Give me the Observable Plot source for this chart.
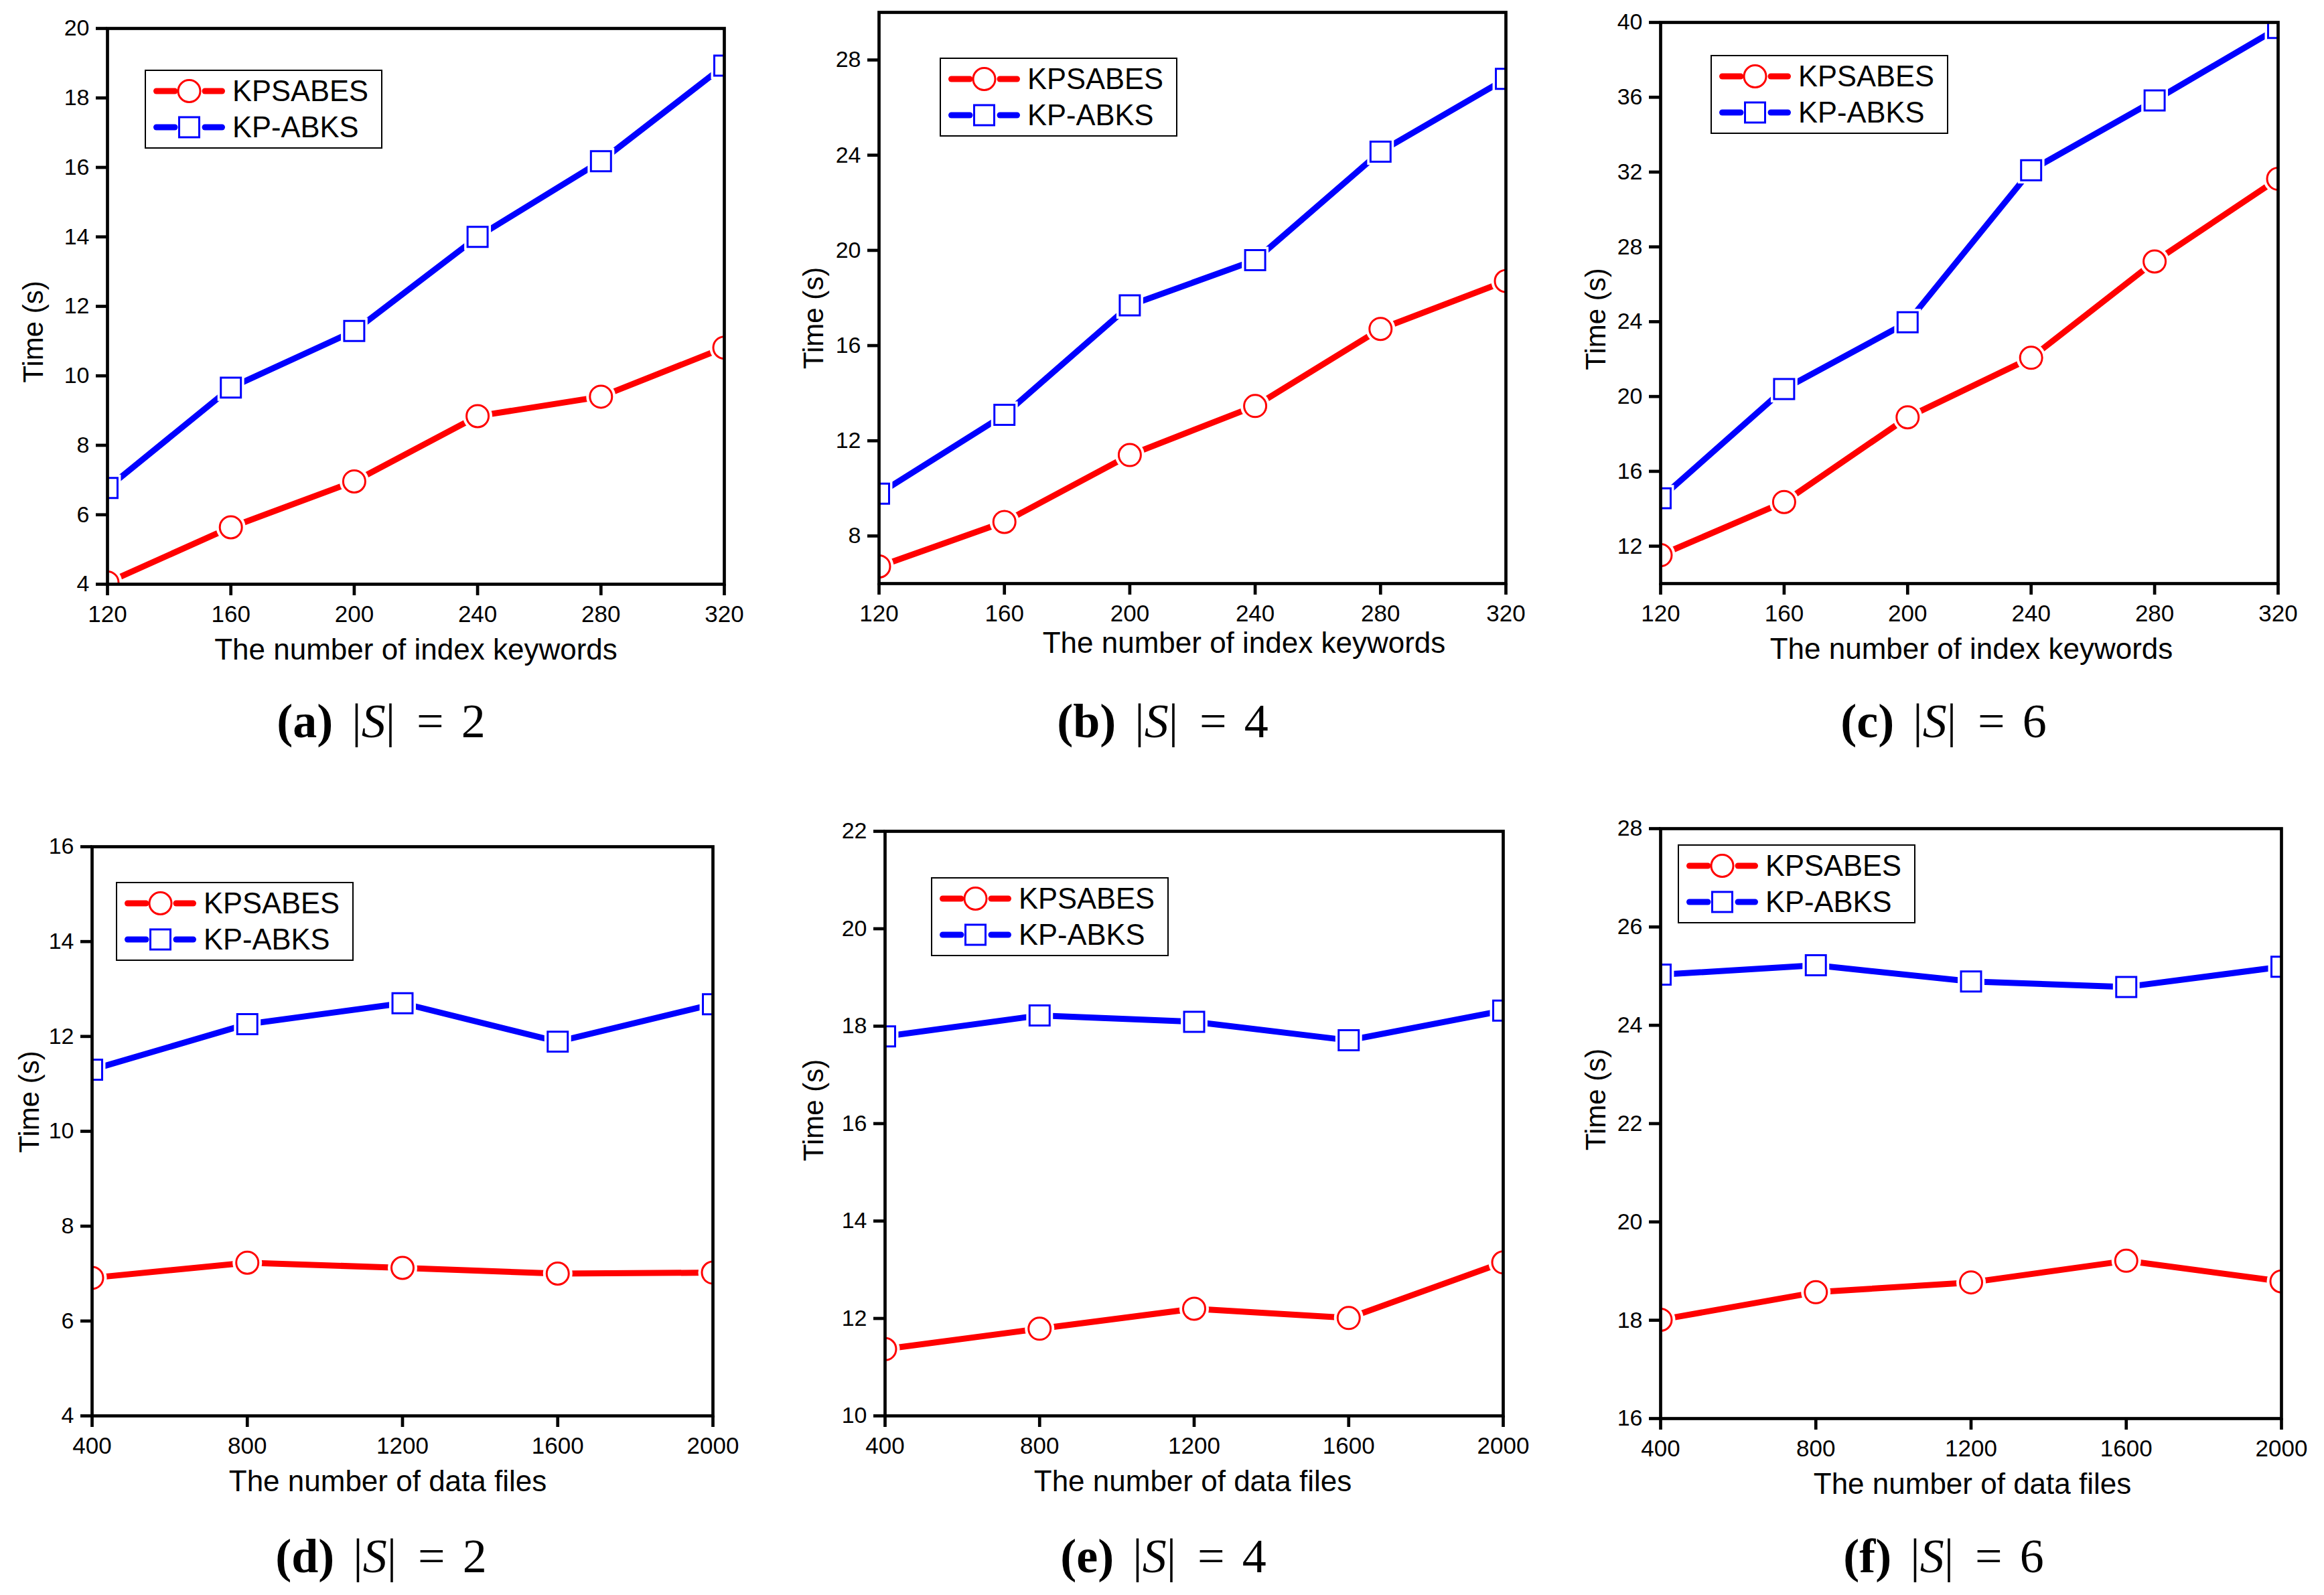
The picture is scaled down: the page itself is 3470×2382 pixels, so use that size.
<!DOCTYPE html>
<html><head><meta charset="utf-8">
<script src="https://cdn.jsdelivr.net/npm/d3@7"></script>
<script src="https://cdn.jsdelivr.net/npm/@observablehq/plot@0.6"></script>
<style>
html,body{margin:0;padding:0;background:#fff;}
body{width:3470px;height:2382px;position:relative;overflow:hidden;font-family:"Liberation Sans",Arial,sans-serif;}
.panel{position:absolute;}
.legend{position:absolute;border:2px solid #000;background:#fff;box-sizing:border-box;padding:3px 19px 3px 11px;}
.legend .row{display:flex;align-items:center;height:54px;font-size:43.5px;white-space:nowrap;}
.legend svg{flex:none;margin-right:11px;}
.caption{position:absolute;font-family:"Liberation Serif","Times New Roman",serif;font-size:72px;transform:translate(-50%,-50%);white-space:nowrap;color:#000;line-height:1;}
.caption .m{font-style:italic;}
</style></head><body>
<script>
// ---- data ----
const keywords = [120, 160, 200, 240, 280, 320];
const files = [400, 800, 1200, 1600, 2000];
const seriesNames = ["KPSABES", "KP-ABKS"];

const aKPSABES = [4.05, 5.64, 6.96, 8.84, 9.40, 10.81];
const aKPABKS  = [6.77, 9.66, 11.29, 14.0, 16.18, 18.93];
const bKPSABES = [6.72, 8.59, 11.40, 13.46, 16.70, 18.71];
const bKPABKS  = [9.78, 13.09, 17.69, 19.59, 24.15, 27.21];
const cKPSABES = [11.52, 14.36, 18.89, 22.07, 27.22, 31.64];
const cKPABKS  = [14.56, 20.40, 23.97, 32.10, 35.83, 39.70];
const dKPSABES = [6.91, 7.23, 7.12, 7.00, 7.02];
const dKPABKS  = [11.30, 12.26, 12.70, 11.89, 12.68];
const eKPSABES = [11.37, 11.79, 12.20, 12.01, 13.15];
const eKPABKS  = [17.79, 18.22, 18.09, 17.71, 18.32];
const fKPSABES = [18.01, 18.57, 18.77, 19.21, 18.79];
const fKPABKS  = [25.03, 25.22, 24.89, 24.78, 25.19];

const yTicksA = [4, 6, 8, 10, 12, 14, 16, 18, 20];
const yTicksB = [8, 12, 16, 20, 24, 28];
const yTicksC = [12, 16, 20, 24, 28, 32, 36, 40];
const yTicksD = [4, 6, 8, 10, 12, 14, 16];
const yTicksE = [10, 12, 14, 16, 18, 20, 22];
const yTicksF = [16, 18, 20, 22, 24, 26, 28];

const xLabelKeywords = "The number of index keywords";
const xLabelFiles = "The number of data files";
const yLabel = "Time (s)";
const captions = [["a", "2"], ["b", "4"], ["c", "6"], ["d", "2"], ["e", "4"], ["f", "6"]];

// ---- layout ----
const RED = "#ff0000", BLUE = "#0000ff";
const mL = 150, mR = 45, mT = 30, mB = 150;

const panels = [
  {xs: keywords, s1: aKPSABES, s2: aKPABKS, yDomain: [4, 20], yTicks: yTicksA, xLabel: xLabelKeywords,
   L: 160, T: 42, R: 1081, B: 872, lg: [56, 62], xdx: 0, ydx: -110, ydy: 38, cap: [569, 1077]},
  {xs: keywords, s1: bKPSABES, s2: bKPABKS, yDomain: [6, 30], yTicks: yTicksB, xLabel: xLabelKeywords,
   L: 1312, T: 18, R: 2248, B: 871, lg: [91, 68], xdx: 77, ydx: -97, ydy: 30, cap: [1736, 1077], xdy: 89},
  {xs: keywords, s1: cKPSABES, s2: cKPABKS, yDomain: [10, 40], yTicks: yTicksC, xLabel: xLabelKeywords,
   L: 2479, T: 33, R: 3401, B: 871, lg: [75, 49], xdx: 3, ydx: -96, ydy: 24, cap: [2902, 1077]},
  {xs: files, s1: dKPSABES, s2: dKPABKS, yDomain: [4, 16], yTicks: yTicksD, xLabel: xLabelFiles,
   L: 137, T: 1264, R: 1064, B: 2114, lg: [36, 53], xdx: -22, ydx: -93, ydy: -44, cap: [569, 2324]},
  {xs: files, s1: eKPSABES, s2: eKPABKS, yDomain: [10, 22], yTicks: yTicksE, xLabel: xLabelFiles,
   L: 1321, T: 1241, R: 2244, B: 2114, lg: [69, 69], xdx: -2, ydx: -106, ydy: -20, cap: [1737, 2324]},
  {xs: files, s1: fKPSABES, s2: fKPABKS, yDomain: [16, 28], yTicks: yTicksF, xLabel: xLabelFiles,
   L: 2479, T: 1237, R: 3406, B: 2118, lg: [26, 24], xdx: 2, ydx: -96, ydy: -36, cap: [2902, 2324]}
];

function legendSample(color, square) {
  const marker = square
    ? `<rect x="38.5" y="12" width="30" height="30" fill="#fff" stroke="${color}" stroke-width="3"/>`
    : `<circle cx="53.5" cy="27" r="16.5" fill="#fff" stroke="${color}" stroke-width="3"/>`;
  return `<svg width="107" height="54" viewBox="0 0 107 54">
    <line x1="4.5" y1="27" x2="32" y2="27" stroke="${color}" stroke-width="9" stroke-linecap="round"/>
    <line x1="77" y1="27" x2="102.5" y2="27" stroke="${color}" stroke-width="9" stroke-linecap="round"/>
    ${marker}</svg>`;
}

panels.forEach((p, k) => {
  const W = p.R - p.L + mL + mR;
  const H = p.B - p.T + mT + mB;
  const rows1 = p.xs.map((x, i) => ({x, y: p.s1[i]}));
  const rows2 = p.xs.map((x, i) => ({x, y: p.s2[i]}));
  const chart = Plot.plot({
    width: W, height: H,
    marginLeft: mL, marginRight: mR, marginTop: mT, marginBottom: mB,
    style: {fontFamily: "Liberation Sans, Arial, sans-serif", fontSize: "35px", background: "transparent", color: "#000", overflow: "visible"},
    x: {domain: [p.xs[0], p.xs[p.xs.length - 1]], label: null},
    y: {domain: p.yDomain, label: null},
    marks: [
      Plot.axisX({ticks: p.xs, tickSize: 17, tickPadding: 15, strokeWidth: 4.7, fontSize: 35, label: null, tickFormat: d => String(d)}),
      Plot.axisY({ticks: p.yTicks, tickSize: 17, tickPadding: 10, strokeWidth: 4.7, fontSize: 34, label: null, tickFormat: d => String(d)}),
      Plot.lineY(rows2, {x: "x", y: "y", stroke: BLUE, strokeWidth: 9, strokeLinecap: "round", clip: true}),
      Plot.lineY(rows1, {x: "x", y: "y", stroke: RED, strokeWidth: 9, strokeLinecap: "round", clip: true}),
      Plot.dot(rows2, {x: "x", y: "y", symbol: "square", r: 22.5, fill: "#fff", stroke: null, clip: true}),
      Plot.dot(rows1, {x: "x", y: "y", r: 22, fill: "#fff", stroke: null, clip: true}),
      Plot.dot(rows2, {x: "x", y: "y", symbol: "square", r: 16.9, fill: "#fff", stroke: BLUE, strokeWidth: 3, clip: true}),
      Plot.dot(rows1, {x: "x", y: "y", r: 16.5, fill: "#fff", stroke: RED, strokeWidth: 3, clip: true}),
      Plot.frame({stroke: "#000", strokeWidth: 4.7}),
      Plot.text([p.xLabel], {text: d => d, frameAnchor: "bottom", lineAnchor: "middle", textAnchor: "middle", dy: p.xdy ?? 98, dx: p.xdx, fontSize: 44}),
      Plot.text([yLabel], {text: d => d, frameAnchor: "left", textAnchor: "middle", lineAnchor: "middle", rotate: -90, dx: p.ydx, dy: p.ydy, fontSize: 42})
    ]
  });
  const div = document.createElement("div");
  div.className = "panel";
  div.style.left = (p.L - mL) + "px";
  div.style.top = (p.T - mT) + "px";
  div.appendChild(chart);
  document.body.appendChild(div);

  const lg = document.createElement("div");
  lg.className = "legend";
  lg.style.left = (p.L + p.lg[0]) + "px";
  lg.style.top = (p.T + p.lg[1]) + "px";
  lg.innerHTML = `<div class="row">${legendSample(RED, false)}<span>${seriesNames[0]}</span></div>
                  <div class="row">${legendSample(BLUE, true)}<span>${seriesNames[1]}</span></div>`;
  document.body.appendChild(lg);

  const cap = document.createElement("div");
  cap.className = "caption";
  cap.style.left = p.cap[0] + "px";
  cap.style.top = p.cap[1] + "px";
  const [letter, n] = captions[k];
  cap.innerHTML = `<b>(${letter})</b><span style="margin-left:28px">|</span><span class="m">S</span><span>|</span><span style="margin:0 26px 0 32px">=</span><span>${n}</span>`;
  document.body.appendChild(cap);
});
</script>
</body></html>
